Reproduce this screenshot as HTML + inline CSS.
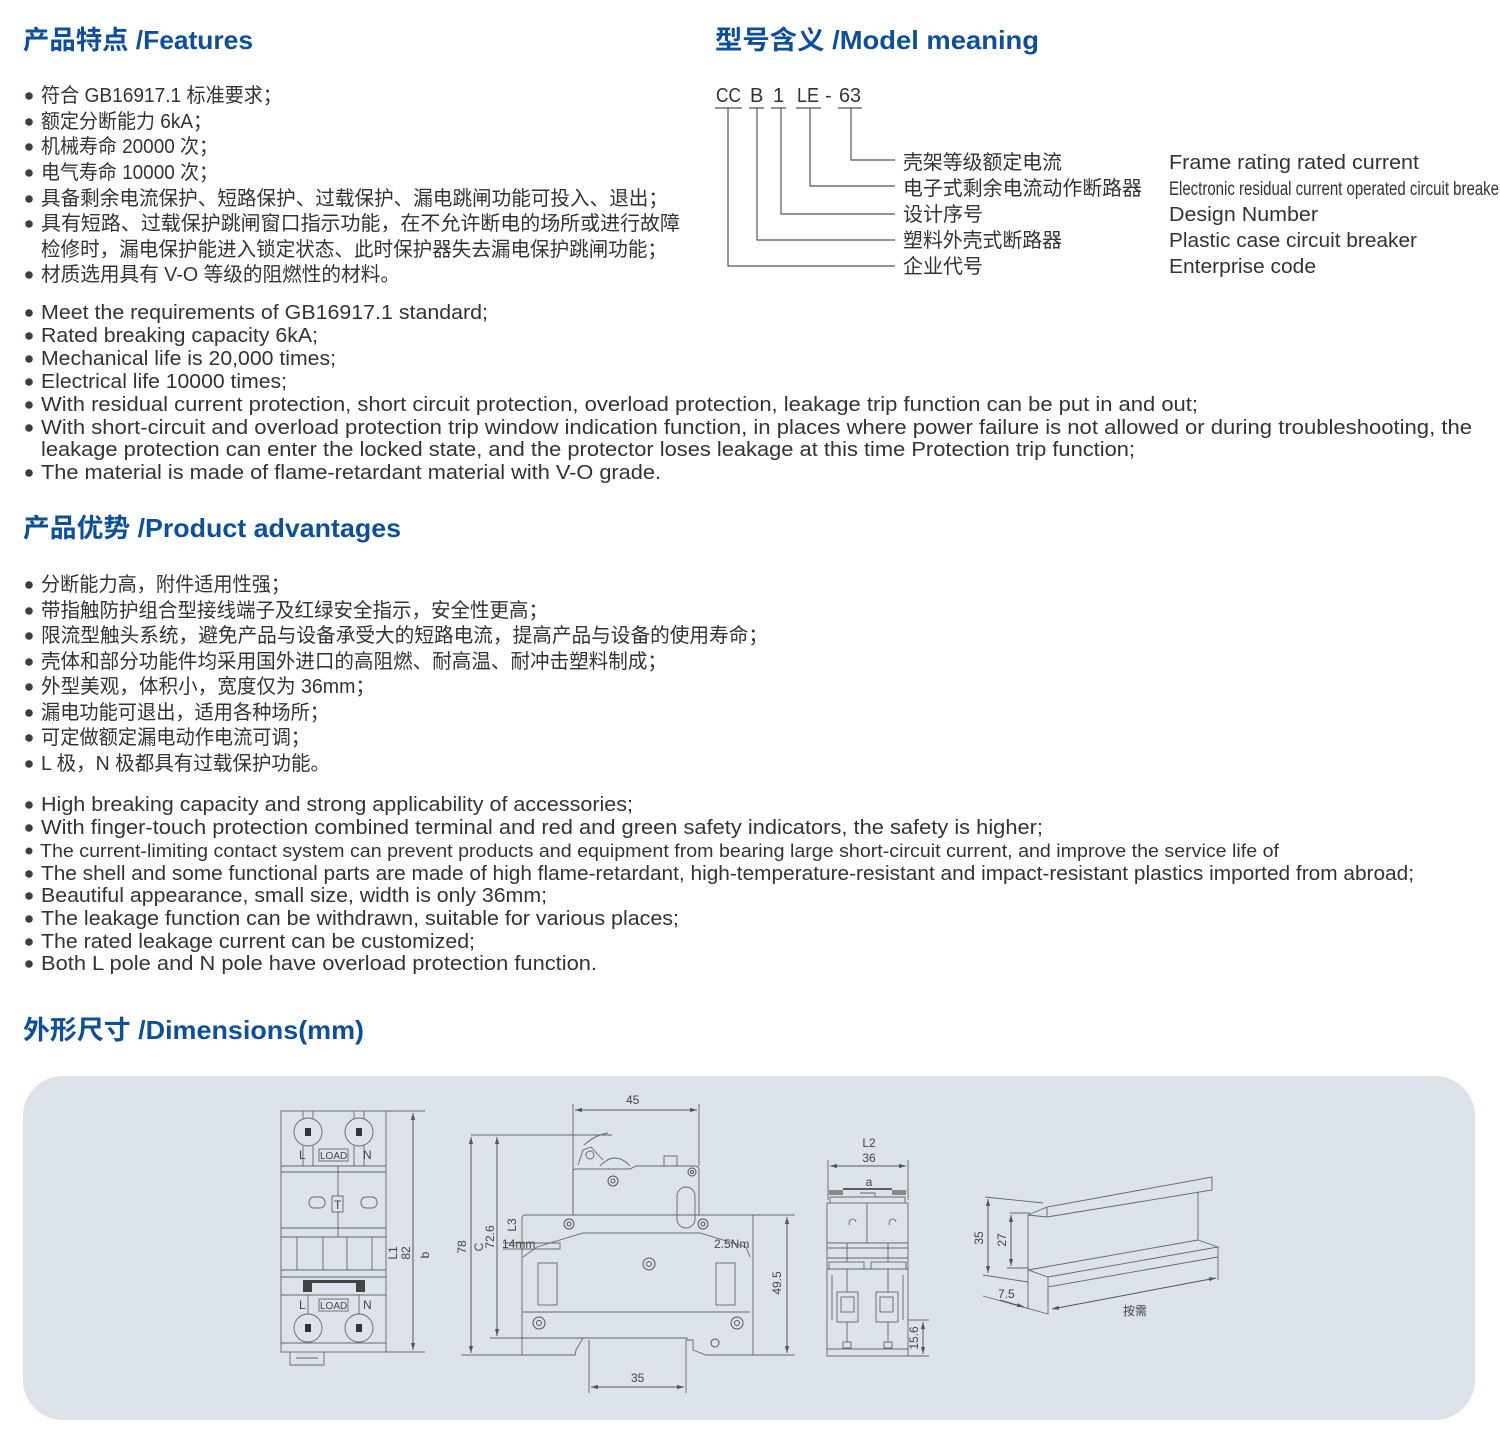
<!DOCTYPE html>
<html><head><meta charset="utf-8"><style>
html,body{margin:0;padding:0;background:#fff;}
svg{display:block;}
.h{font-family:"Liberation Sans","Noto Sans CJK SC",sans-serif;font-weight:bold;font-size:26px;fill:#0d4f9a;}
.t{font-family:"Liberation Sans","Noto Sans CJK SC",sans-serif;font-size:20px;fill:#333;}
.d{font-family:"Liberation Sans","Noto Sans CJK SC",sans-serif;font-size:12px;fill:#444;}
.ln{stroke:#555;stroke-width:1;fill:none;}
.lt{stroke:#666;stroke-width:0.9;fill:none;}
</style></head><body>
<svg width="1500" height="1440" viewBox="0 0 1500 1440" xmlns="http://www.w3.org/2000/svg">
<defs>
<marker id="a" viewBox="0 0 10 10" refX="10" refY="5" markerWidth="7" markerHeight="7" orient="auto-start-reverse"><path d="M0,2 L10,5 L0,8z" fill="#555"/></marker>
</defs>

<text class="h" x="23" y="49" textLength="230" lengthAdjust="spacingAndGlyphs">产品特点 /Features</text>
<text class="h" x="715" y="49" textLength="324" lengthAdjust="spacingAndGlyphs">型号含义 /Model meaning</text>
<text class="h" x="23" y="537" textLength="378" lengthAdjust="spacingAndGlyphs">产品优势 /Product advantages</text>
<text class="h" x="23" y="1039" textLength="341" lengthAdjust="spacingAndGlyphs">外形尺寸 /Dimensions(mm)</text>

<g fill="#3a3f45">
<circle cx="29" cy="96" r="3.8"/><circle cx="29" cy="122" r="3.8"/><circle cx="29" cy="147" r="3.8"/><circle cx="29" cy="173" r="3.8"/><circle cx="29" cy="199" r="3.8"/><circle cx="29" cy="224" r="3.8"/><circle cx="29" cy="275" r="3.8"/>
<circle cx="29" cy="313" r="3.8"/><circle cx="29" cy="336" r="3.8"/><circle cx="29" cy="359" r="3.8"/><circle cx="29" cy="382" r="3.8"/><circle cx="29" cy="405" r="3.8"/><circle cx="29" cy="428" r="3.8"/><circle cx="29" cy="473" r="3.8"/>
<circle cx="29" cy="585" r="3.8"/><circle cx="29" cy="611" r="3.8"/><circle cx="29" cy="636" r="3.8"/><circle cx="29" cy="662" r="3.8"/><circle cx="29" cy="687" r="3.8"/><circle cx="29" cy="713" r="3.8"/><circle cx="29" cy="738" r="3.8"/><circle cx="29" cy="764" r="3.8"/>
<circle cx="29" cy="805" r="3.8"/><circle cx="29" cy="828" r="3.8"/><circle cx="29" cy="851" r="3.5"/><circle cx="29" cy="874" r="3.8"/><circle cx="29" cy="896" r="3.8"/><circle cx="29" cy="919" r="3.8"/><circle cx="29" cy="942" r="3.8"/><circle cx="29" cy="964" r="3.8"/>
</g>

<g class="t">
<text x="41" y="102" textLength="241" lengthAdjust="spacingAndGlyphs">符合 GB16917.1 标准要求；</text>
<text x="41" y="128" textLength="171" lengthAdjust="spacingAndGlyphs">额定分断能力 6kA；</text>
<text x="41" y="153" textLength="177" lengthAdjust="spacingAndGlyphs">机械寿命 20000 次；</text>
<text x="41" y="179" textLength="177" lengthAdjust="spacingAndGlyphs">电气寿命 10000 次；</text>
<text x="41" y="205" textLength="627" lengthAdjust="spacingAndGlyphs">具备剩余电流保护、短路保护、过载保护、漏电跳闸功能可投入、退出；</text>
<text x="41" y="230" textLength="639" lengthAdjust="spacingAndGlyphs">具有短路、过载保护跳闸窗口指示功能，在不允许断电的场所或进行故障</text>
<text x="41" y="256" textLength="626" lengthAdjust="spacingAndGlyphs">检修时，漏电保护能进入锁定状态、此时保护器失去漏电保护跳闸功能；</text>
<text x="41" y="281" textLength="359" lengthAdjust="spacingAndGlyphs">材质选用具有 V-O 等级的阻燃性的材料。</text>

<text x="41" y="319" textLength="447" lengthAdjust="spacingAndGlyphs">Meet the requirements of GB16917.1 standard;</text>
<text x="41" y="342" textLength="277" lengthAdjust="spacingAndGlyphs">Rated breaking capacity 6kA;</text>
<text x="41" y="365" textLength="295" lengthAdjust="spacingAndGlyphs">Mechanical life is 20,000 times;</text>
<text x="41" y="388" textLength="246" lengthAdjust="spacingAndGlyphs">Electrical life 10000 times;</text>
<text x="41" y="411" textLength="1157" lengthAdjust="spacingAndGlyphs">With residual current protection, short circuit protection, overload protection, leakage trip function can be put in and out;</text>
<text x="41" y="434" textLength="1431" lengthAdjust="spacingAndGlyphs">With short-circuit and overload protection trip window indication function, in places where power failure is not allowed or during troubleshooting, the</text>
<text x="41" y="456" textLength="1094" lengthAdjust="spacingAndGlyphs">leakage protection can enter the locked state, and the protector loses leakage at this time  Protection trip function;</text>
<text x="41" y="479" textLength="620" lengthAdjust="spacingAndGlyphs">The material is made of flame-retardant material with V-O grade.</text>

<text x="41" y="591" textLength="249" lengthAdjust="spacingAndGlyphs">分断能力高，附件适用性强；</text>
<text x="41" y="617" textLength="507" lengthAdjust="spacingAndGlyphs">带指触防护组合型接线端子及红绿安全指示，安全性更高；</text>
<text x="41" y="642" textLength="727" lengthAdjust="spacingAndGlyphs">限流型触头系统，避免产品与设备承受大的短路电流，提高产品与设备的使用寿命；</text>
<text x="41" y="668" textLength="626" lengthAdjust="spacingAndGlyphs">壳体和部分功能件均采用国外进口的高阻燃、耐高温、耐冲击塑料制成；</text>
<text x="41" y="693" textLength="334" lengthAdjust="spacingAndGlyphs">外型美观，体积小，宽度仅为 36mm；</text>
<text x="41" y="719" textLength="288" lengthAdjust="spacingAndGlyphs">漏电功能可退出，适用各种场所；</text>
<text x="41" y="744" textLength="269" lengthAdjust="spacingAndGlyphs">可定做额定漏电动作电流可调；</text>
<text x="41" y="770" textLength="289" lengthAdjust="spacingAndGlyphs">L 极，N 极都具有过载保护功能。</text>

<text x="41" y="811" textLength="592" lengthAdjust="spacingAndGlyphs">High breaking capacity and strong applicability of accessories;</text>
<text x="41" y="834" textLength="1002" lengthAdjust="spacingAndGlyphs">With finger-touch protection combined terminal and red and green safety indicators, the safety is higher;</text>
<text x="40" y="857" style="font-size:18.5px" textLength="1239" lengthAdjust="spacingAndGlyphs">The current-limiting contact system can prevent products and equipment from bearing large short-circuit current, and improve the service life of</text>
<text x="41" y="880" textLength="1373" lengthAdjust="spacingAndGlyphs">The shell and some functional parts are made of high flame-retardant, high-temperature-resistant and impact-resistant plastics imported from abroad;</text>
<text x="41" y="902" textLength="506" lengthAdjust="spacingAndGlyphs">Beautiful appearance, small size, width is only 36mm;</text>
<text x="41" y="925" textLength="638" lengthAdjust="spacingAndGlyphs">The leakage function can be withdrawn, suitable for various places;</text>
<text x="41" y="948" textLength="434" lengthAdjust="spacingAndGlyphs">The rated leakage current can be customized;</text>
<text x="41" y="970" textLength="556" lengthAdjust="spacingAndGlyphs">Both L pole and N pole have overload protection function.</text>

<text x="716" y="102" textLength="25" lengthAdjust="spacingAndGlyphs">CC</text>
<text x="750" y="102">B</text>
<text x="773" y="102">1</text>
<text x="797" y="102" textLength="22" lengthAdjust="spacingAndGlyphs">LE</text>
<text x="825" y="102">-</text>
<text x="839" y="102" textLength="22" lengthAdjust="spacingAndGlyphs">63</text>
<text x="903" y="169" textLength="159" lengthAdjust="spacingAndGlyphs">壳架等级额定电流</text>
<text x="903" y="195" textLength="239" lengthAdjust="spacingAndGlyphs">电子式剩余电流动作断路器</text>
<text x="903" y="221" textLength="80" lengthAdjust="spacingAndGlyphs">设计序号</text>
<text x="903" y="247" textLength="159" lengthAdjust="spacingAndGlyphs">塑料外壳式断路器</text>
<text x="903" y="273" textLength="80" lengthAdjust="spacingAndGlyphs">企业代号</text>
<text x="1169" y="169" textLength="250" lengthAdjust="spacingAndGlyphs">Frame rating rated current</text>
<text x="1169" y="195" style="font-size:19px" textLength="335" lengthAdjust="spacingAndGlyphs">Electronic residual current operated circuit breaker</text>
<text x="1169" y="221" textLength="149" lengthAdjust="spacingAndGlyphs">Design Number</text>
<text x="1169" y="247" textLength="248" lengthAdjust="spacingAndGlyphs">Plastic case circuit breaker</text>
<text x="1169" y="273" textLength="147" lengthAdjust="spacingAndGlyphs">Enterprise code</text>
</g>
<g stroke="#555" stroke-width="1.2" fill="none">
<path d="M715 108H742M749 108H764M771 108H786M796 108H821M838 108H862"/>
<path d="M851 108V160H895M810 108V186H895M781 108V214H895M757 108V240H895M728 108V266H895"/>
</g>

<rect x="23" y="1076" width="1452" height="344" rx="40" fill="#dde3ea"/>

<!-- front view -->
<g class="lt">
<rect x="281" y="1111" width="105" height="241"/>
<path d="M281 1166H386M281 1172H386M281 1228H386M281 1237H386M281 1270H386M281 1277H386M281 1295H386M281 1343H386"/>
<path d="M290 1352V1365H324V1352M296 1358H318"/>
<circle cx="308" cy="1132" r="14"/><circle cx="359" cy="1132" r="14"/>
<circle cx="308" cy="1328" r="14"/><circle cx="359" cy="1328" r="14"/>
<path d="M303 1111V1118M313 1111V1118M354 1111V1118M364 1111V1118M303 1146V1166M313 1146V1166M354 1146V1166M364 1146V1166"/>
<rect x="319" y="1149" width="29" height="12"/>
<rect x="332" y="1196" width="11" height="16"/>
<path d="M338 1166V1196M338 1212V1237"/>
<rect x="309" y="1197" width="16" height="11" rx="5"/><rect x="361" y="1197" width="16" height="11" rx="5"/>
<path d="M297 1237V1270M323 1237V1270M347 1237V1270M372 1237V1270"/>
<rect x="319" y="1299" width="29" height="12"/>
<path d="M308 1295V1314M359 1295V1314"/>
</g>
<g fill="#333">
<rect x="305" y="1128" width="6" height="8"/><rect x="356" y="1128" width="6" height="8"/>
<rect x="305" y="1324" width="6" height="8"/><rect x="356" y="1324" width="6" height="8"/>
</g>
<rect x="303" y="1280" width="62" height="12" fill="#444"/>
<rect x="312" y="1283" width="44" height="9" fill="#dde3ea"/>
<g class="d">
<text x="299" y="1159">L</text><text x="320" y="1159" font-size="10">LOAD</text><text x="363" y="1159">N</text>
<text x="334" y="1209">T</text>
<text x="299" y="1309">L</text><text x="320" y="1309" font-size="10">LOAD</text><text x="363" y="1309">N</text>
</g>
<path class="lt" d="M386 1111H425M386 1352H425"/>
<line x1="413" y1="1113" x2="413" y2="1350" class="ln" marker-start="url(#a)" marker-end="url(#a)"/>
<g class="d" font-size="13">
<text transform="translate(397,1253) rotate(-90)" text-anchor="middle">L1</text>
<text transform="translate(410,1253) rotate(-90)" text-anchor="middle">82</text>
<text transform="translate(429,1255) rotate(-90)" text-anchor="middle">b</text>
</g>

<!-- side view -->
<g class="lt">
<path d="M573 1215V1172Q573 1169 576 1169H630L636 1166H695Q699 1166 699 1170V1215"/>
<path d="M522 1218Q522 1215 526 1215H753V1355H706L693 1350V1340H687V1338H583L576 1350L575 1355H522Z"/>
<path d="M523 1257L537 1247L583 1233H700L746 1247L750 1257"/>
<path d="M523 1312H750"/>
<rect x="538" y="1263" width="19" height="42"/><rect x="716" y="1263" width="19" height="42"/>
<rect x="677" y="1187" width="18" height="41" rx="9"/>
<rect x="664" y="1156" width="13" height="10"/>
<path d="M578 1165L583 1150L591 1147L603 1160M600 1166Q615 1150 630 1166M584 1145Q595 1135 608 1133"/>
<circle cx="590" cy="1155" r="4"/>
<path d="M471 1135H612M461 1355H522M490 1338H583M699 1104V1166M573 1104V1214M753 1215H795M753 1355H795M589 1340V1393M686 1340V1393"/>
<path d="M503 1243H560V1249H503"/>
</g>
<g fill="none" stroke="#555">
<circle cx="613" cy="1181" r="5"/><circle cx="613" cy="1181" r="2"/>
<circle cx="692" cy="1172" r="4"/><circle cx="692" cy="1172" r="1.5"/>
<circle cx="569" cy="1224" r="5"/><circle cx="569" cy="1224" r="2"/>
<circle cx="703" cy="1224" r="5"/><circle cx="703" cy="1224" r="2"/>
<circle cx="649" cy="1264" r="6"/><circle cx="649" cy="1264" r="2.5"/>
<circle cx="539" cy="1323" r="6"/><circle cx="539" cy="1323" r="2.5"/>
<circle cx="737" cy="1323" r="6"/><circle cx="737" cy="1323" r="2.5"/>
<circle cx="715" cy="1343" r="4"/>
</g>
<line x1="575" y1="1110" x2="697" y2="1110" class="ln" marker-start="url(#a)" marker-end="url(#a)"/>
<line x1="471" y1="1137" x2="471" y2="1353" class="ln" marker-start="url(#a)" marker-end="url(#a)"/>
<line x1="497" y1="1137" x2="497" y2="1336" class="ln" marker-start="url(#a)" marker-end="url(#a)"/>
<line x1="787" y1="1217" x2="787" y2="1353" class="ln" marker-start="url(#a)" marker-end="url(#a)"/>
<line x1="591" y1="1387" x2="684" y2="1387" class="ln" marker-start="url(#a)" marker-end="url(#a)"/>
<g class="d" font-size="13">
<text x="626" y="1104">45</text>
<text x="631" y="1382">35</text>
<text transform="translate(466,1247) rotate(-90)" text-anchor="middle">78</text>
<text transform="translate(483,1247) rotate(-90)" text-anchor="middle">C</text>
<text transform="translate(494,1237) rotate(-90)" text-anchor="middle">72.6</text>
<text transform="translate(516,1225) rotate(-90)" text-anchor="middle">L3</text>
<text x="502" y="1248">14mm</text>
<text x="714" y="1248">2.5Nm</text>
<text transform="translate(781,1283) rotate(-90)" text-anchor="middle">49.5</text>
</g>

<!-- end view -->
<g class="lt">
<rect x="827" y="1203" width="81" height="153"/>
<path d="M867 1203V1243M827 1243H908M827 1248H908M827 1258H908M827 1269H908M827 1349H908"/>
<path d="M830 1197H905V1203M830 1197V1203M860 1193H875V1197"/>
<path d="M850 1225A3.5 3.5 0 1 1 856 1222M890 1225A3.5 3.5 0 1 1 896 1222"/>
<rect x="829" y="1262" width="35" height="7"/><rect x="871" y="1262" width="35" height="7"/>
<path d="M847 1243V1262M888 1243V1262M847 1269V1292M888 1269V1292M847 1322V1342M888 1322V1342"/>
<rect x="837" y="1292" width="21" height="30"/><rect x="876" y="1292" width="22" height="30"/>
<rect x="841" y="1297" width="13" height="15"/><rect x="880" y="1297" width="13" height="15"/>
<rect x="843" y="1342" width="8" height="6"/><rect x="884" y="1342" width="8" height="6"/>
<path d="M832 1275V1320M903 1275V1320M828 1160V1200M908 1160V1200M908 1320H929M908 1356H929"/>
</g>
<path d="M843 1189H892" stroke="#333" stroke-width="1.5"/>
<g fill="#888"><rect x="829" y="1190" width="14" height="5"/><rect x="892" y="1190" width="14" height="5"/></g>
<line x1="830" y1="1166" x2="906" y2="1166" class="ln" marker-start="url(#a)" marker-end="url(#a)"/>
<line x1="923" y1="1322" x2="923" y2="1354" class="ln" marker-start="url(#a)" marker-end="url(#a)"/>
<g class="d" font-size="13">
<text x="869" y="1147" text-anchor="middle">L2</text>
<text x="869" y="1162" text-anchor="middle">36</text>
<text x="869" y="1186" text-anchor="middle" font-size="12">a</text>
<text transform="translate(918,1338) rotate(-90)" text-anchor="middle">15.6</text>
</g>

<!-- rail -->
<g class="lt">
<path d="M1028 1215L1047 1207L1212 1177V1190L1047 1217L1028 1215"/>
<path d="M1047 1207V1217"/>
<path d="M1028 1215V1308M1198 1192V1240"/>
<path d="M1028 1270L1198 1240M1028 1270L1048 1277L1218 1247L1198 1240M1048 1277V1287L1218 1257V1247"/>
<path d="M985 1197L1043 1203M983 1275L1028 1282M1010 1213H1030M1007 1268H1028M983 1296L1048 1314M1048 1288V1314M1218 1257V1280"/>
</g>
<line x1="988" y1="1199" x2="988" y2="1273" class="ln" marker-start="url(#a)" marker-end="url(#a)"/>
<line x1="1011" y1="1215" x2="1011" y2="1266" class="ln" marker-start="url(#a)" marker-end="url(#a)"/>
<line x1="1000" y1="1300" x2="1024" y2="1307" class="ln" marker-end="url(#a)"/>
<line x1="1052" y1="1309" x2="1216" y2="1278" class="ln" marker-start="url(#a)" marker-end="url(#a)"/>
<g class="d" font-size="16">
<text transform="translate(983,1238) rotate(-90)" text-anchor="middle">35</text>
<text transform="translate(1006,1240) rotate(-90)" text-anchor="middle">27</text>
<text x="998" y="1298">7.5</text>
<text x="1123" y="1315">按需</text>
</g>
</svg>
</body></html>
